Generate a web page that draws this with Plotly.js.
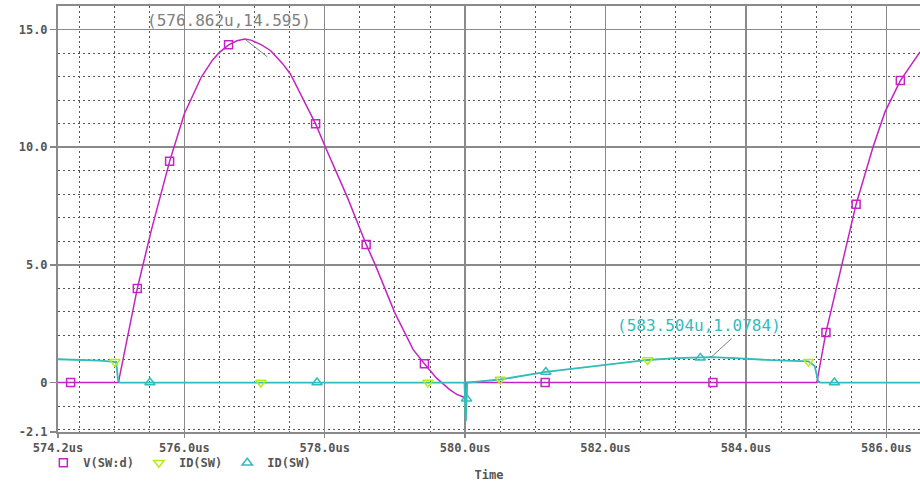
<!DOCTYPE html>
<html>
<head>
<meta charset="utf-8">
<script src="https://cdn.plot.ly/plotly-3.0.1.min.js"></script>
<style>html,body{margin:0;padding:0;background:#fff;}#chart{width:920px;height:482px;}</style>
</head>
<body>
<div id="chart"></div>
<script>
// ---- data (time in us) ----
const vTime = [574.2, 575.0, 575.06, 575.33, 575.53, 575.79, 576.0, 576.24, 576.4, 576.5, 576.63, 576.75, 576.862, 576.95, 577.1, 577.23, 577.4, 577.51, 577.7, 577.87, 578.01, 578.32, 578.59, 578.72, 579.0, 579.26, 579.42, 579.59, 579.78, 579.88, 579.95, 579.99, 580.02, 585.0, 585.01, 585.14, 585.36, 585.57, 585.81, 585.98, 586.2, 586.48];
const vSW   = [0, 0, 0, 4.0, 6.48, 9.4, 11.42, 12.97, 13.7, 14.03, 14.35, 14.52, 14.595, 14.55, 14.35, 14.1, 13.55, 13.11, 12.0, 10.99, 10.0, 7.89, 5.87, 5.0, 2.95, 1.40, 0.80, 0.2, -0.3, -0.5, -0.58, -0.63, 0, 0, 0, 2.13, 4.92, 7.58, 10.0, 11.49, 12.83, 14.05];

const iTime = [574.2, 574.5, 574.8, 575.0, 575.03, 575.055, 575.08, 579.99, 580.01, 580.03, 580.1, 580.5, 581.15, 581.98, 582.6, 583.0, 583.504, 583.85, 584.37, 584.89, 584.98, 585.03, 585.06, 586.48];
const iSW   = [0.99, 0.97, 0.93, 0.88, 0.88, 0.1, 0, 0, -1.64, 0, 0.02, 0.13, 0.45, 0.76, 0.96, 1.04, 1.0784, 1.04, 0.95, 0.90, 0.70, 0.05, 0, 0];

// marker positions as drawn by the probe
const vMarkT = [574.38, 575.33, 575.79, 576.63, 577.87, 578.59, 579.42, 581.14, 583.53, 585.14, 585.57, 586.2];
const vMarkV = [0, 4.0, 9.4, 14.35, 11.0, 5.87, 0.8, 0, 0, 2.13, 7.58, 12.83];
const dnMarkT = [575.01, 577.09, 579.47, 580.5, 582.6, 584.89];
const dnMarkV = [0.88, 0, 0, 0.13, 0.96, 0.89];
const upMarkT = [575.51, 577.89, 580.02, 581.15, 583.35, 585.26];
const upMarkV = [0, 0, -0.69, 0.45, 1.05, 0];

const xTicks = [574.2, 576, 578, 580, 582, 584, 586];
const xTickText = ['574.2us', '576.0us', '578.0us', '580.0us', '582.0us', '584.0us', '586.0us'];
const yTicks = [-2.1, 0, 5, 10, 15];
const yTickText = ['-2.1', '0', '5.0', '10.0', '15.0'];

const peakV = {t: 576.862, v: 14.595, label: '(576.862u,14.595)'};
const peakI = {t: 583.504, v: 1.0784, label: '(583.504u,1.0784)'};

const MAG = '#c324c3', YEL = '#b4ee10', CYA = '#33bcbc';
const tickFont = {family: 'DejaVu Sans Mono', size: 12, color: '#555555', weight: 'bold'};

const traces = [
  {x: vTime, y: vSW, mode: 'lines', line: {color: MAG, width: 1.5}, showlegend: false, hoverinfo: 'skip'},
  {x: iTime, y: iSW, mode: 'lines', line: {color: YEL, width: 0.8}, showlegend: false, hoverinfo: 'skip'},
  {x: iTime, y: iSW, mode: 'lines', line: {color: CYA, width: 1.8}, showlegend: false, hoverinfo: 'skip'},
  {x: vMarkT, y: vMarkV, mode: 'markers', name: 'V(SW:d)', marker: {symbol: 'square-open', size: 8, color: MAG, line: {width: 1.5, color: MAG}}},
  {x: dnMarkT, y: dnMarkV, mode: 'markers', name: 'ID(SW)', marker: {symbol: 'triangle-down-open', size: 9, color: YEL, line: {width: 1.5, color: YEL}}},
  {x: upMarkT, y: upMarkV, mode: 'markers', name: 'ID(SW)', marker: {symbol: 'triangle-up-open', size: 9, color: CYA, line: {width: 1.5, color: CYA}}}
];

const layout = {
  width: 920, height: 482,
  margin: {l: 58, r: 0, t: 6, b: 50},
  paper_bgcolor: '#ffffff', plot_bgcolor: '#ffffff',
  showlegend: true,
  legend: {orientation: 'h', x: -0.017, xanchor: 'left', y: -0.072, yanchor: 'middle',
           font: tickFont, bgcolor: 'rgba(0,0,0,0)', itemwidth: 30, tracegroupgap: 0},
  xaxis: {
    range: [574.2, 586.48], tickmode: 'array', tickvals: xTicks, ticktext: xTickText,
    tickfont: tickFont, ticks: 'outside', ticklen: 4, tickcolor: '#888888', tickwidth: 1.5,
    showline: true, linecolor: '#8a8a8a', linewidth: 2, mirror: true,
    showgrid: true, gridcolor: '#8a8a8a', gridwidth: 1.5, zeroline: false,
    minor: {tickmode: 'linear', tick0: 574.5, dtick: 0.5, showgrid: true, gridcolor: '#555555', griddash: '2px,3px', gridwidth: 1},
    title: {text: 'Time', font: tickFont, standoff: 16}
  },
  yaxis: {
    range: [-2.1, 16], tickmode: 'array', tickvals: yTicks, ticktext: yTickText,
    tickfont: tickFont, ticks: 'outside', ticklen: 6, tickcolor: '#888888', tickwidth: 1.5,
    showline: true, linecolor: '#8a8a8a', linewidth: 2,
    showgrid: true, gridcolor: '#8a8a8a', gridwidth: 1.5, zeroline: false,
    minor: {tickmode: 'linear', tick0: 0, dtick: 1, showgrid: true, gridcolor: '#555555', griddash: '2px,3px', gridwidth: 1}
  },
  annotations: [
    {x: peakV.t, y: peakV.v, xref: 'x', yref: 'y', text: peakV.label, showarrow: false,
     xshift: -16, yshift: 19, font: {family: 'DejaVu Sans Mono', size: 16, color: '#808080'}},
    {x: peakV.t, y: peakV.v, xref: 'x', yref: 'y', text: '', showarrow: true, arrowhead: 0,
     arrowwidth: 1, arrowcolor: '#808080', ax: 24, ay: 19},
    {x: peakI.t, y: peakI.v, xref: 'x', yref: 'y', text: peakI.label, showarrow: false,
     xshift: -12, yshift: 32, font: {family: 'DejaVu Sans Mono', size: 16, color: CYA}},
    {x: peakI.t, y: peakI.v, xref: 'x', yref: 'y', text: '', showarrow: true, arrowhead: 0,
     arrowwidth: 1, arrowcolor: '#808080', ax: 22, ay: -20}
  ]
};

Plotly.newPlot('chart', traces, layout, {displayModeBar: false, staticPlot: true});
</script>
</body>
</html>
